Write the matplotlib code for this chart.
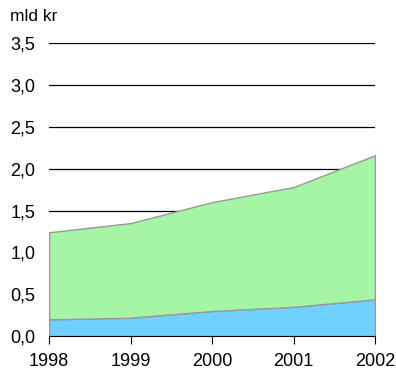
import matplotlib
matplotlib.use("Agg")
import matplotlib.pyplot as plt

# data (mld kr)
aar = [1998, 1999, 2000, 2001, 2002]
blaa = [0.20, 0.22, 0.30, 0.35, 0.44]
total = [1.24, 1.35, 1.60, 1.78, 2.16]
groen = [t - b for t, b in zip(total, blaa)]
y_ticks = [0.0, 0.5, 1.0, 1.5, 2.0, 2.5, 3.0, 3.5]

plt.rcParams['font.family'] = ['Liberation Sans', 'DejaVu Sans']

fig = plt.figure(figsize=(3.96, 3.71), dpi=100)
ax = fig.add_axes([0.124, 0.094, 0.823, 0.79])

ax.stackplot(aar, blaa, groen, colors=['#70d0ff', '#a6f5a6'],
             edgecolor='#999999', linewidth=1, zorder=3)
ax.plot([aar[-1], aar[-1]], [0, total[-1]], color='#aaaaaa', lw=1, zorder=4)

for t in y_ticks[1:]:
    ax.axhline(t, color='black', lw=0.9, zorder=1)

ax.set_xlim(aar[0], aar[-1])
ax.set_ylim(0, 3.5)
ax.set_xticks(aar)
ax.set_yticks(y_ticks)
ax.set_yticklabels([f"{v:.1f}".replace('.', ',') for v in y_ticks])

for s in ['top', 'right', 'left']:
    ax.spines[s].set_visible(False)
ax.spines['bottom'].set_color('black')
ax.spines['bottom'].set_zorder(5)
ax.tick_params(axis='y', length=0, pad=10, labelsize=13)
ax.tick_params(axis='x', direction='out', length=6, pad=6.5, labelsize=13)

fig.text(0.025, 0.955, 'mld kr', fontsize=12.5, ha='left', va='center')

fig.savefig('out.png', dpi=100)
